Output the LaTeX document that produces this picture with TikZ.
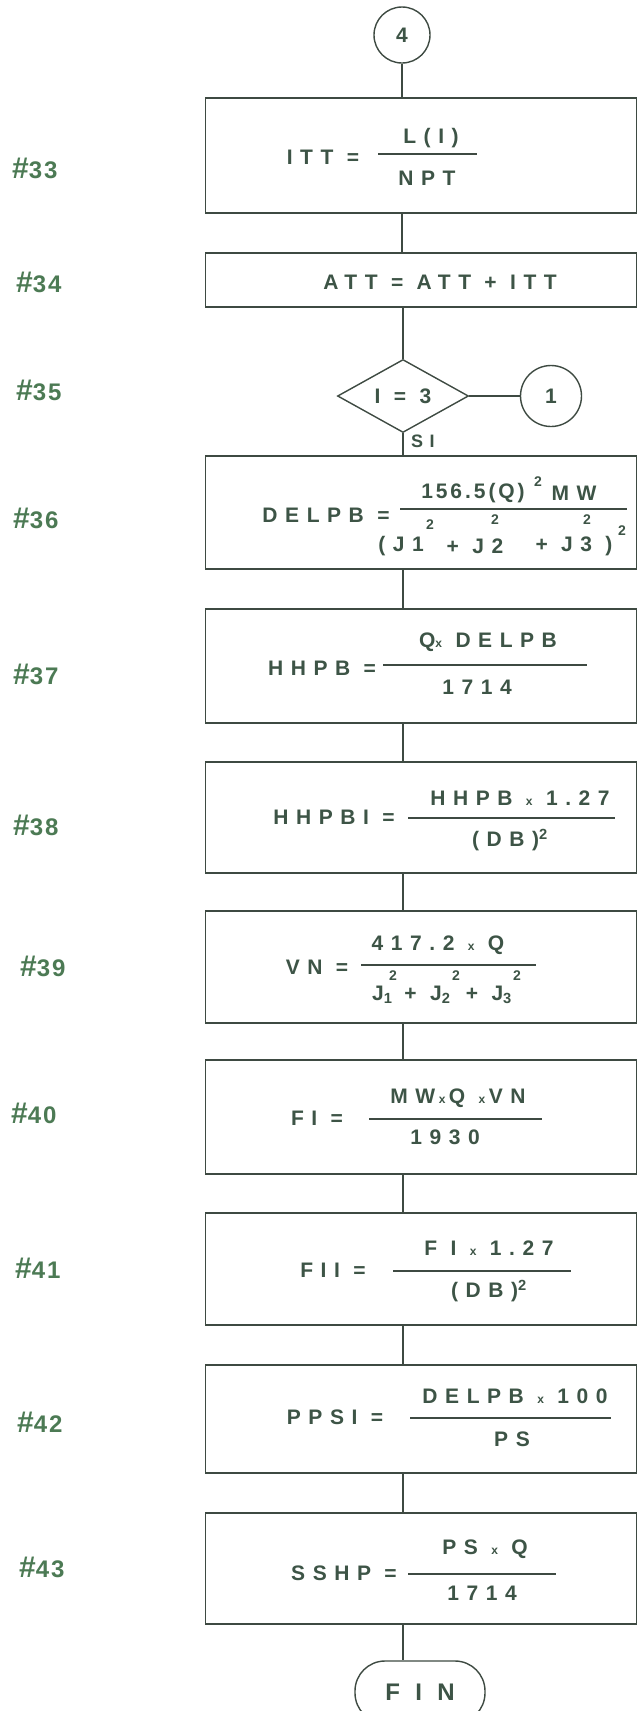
\documentclass[tikz,border=0pt]{standalone}
\usepackage{fontspec}
\usetikzlibrary{shapes.geometric}
\newfontfamily\lettering[LetterSpace=36]{Liberation Sans}
\newfontfamily\lettertight[LetterSpace=14]{Liberation Sans}
\newfontfamily\labfont[LetterSpace=8]{Liberation Sans}
\definecolor{ink}{HTML}{3E4A42}
\definecolor{txt}{HTML}{3D5446}
\definecolor{lbl}{HTML}{4C7A54}
\newcommand\mx{{\fontsize{12}{12}\selectfont x}}
\newcommand\hs{{\fontsize{30}{30}\selectfont\#}}
\begin{document}
\begin{tikzpicture}[x=1pt,y=-1pt,
  box/.style={draw=ink, line width=1.7pt, minimum width=431pt, inner sep=0pt},
  conn/.style={draw=ink, line width=1.2pt},
  bar/.style={draw=ink, line width=1.4pt},
  tx/.style={font=\lettering\bfseries\fontsize{21}{21}\selectfont, text=txt, inner sep=0pt},
  txt2/.style={font=\lettertight\bfseries\fontsize{21}{21}\selectfont, text=txt, inner sep=0pt},
  supx/.style={font=\lettering\bfseries\fontsize{14}{14}\selectfont, text=txt, inner sep=0pt},
  lab/.style={font=\labfont\bfseries\fontsize{24}{24}\selectfont, text=lbl, inner sep=0pt, anchor=west}]
\fill[white] (0,0) rectangle (639,1711);
\useasboundingbox (0,0) rectangle (639,1711);

% shapes
\node[circle, draw=ink, line width=1.4pt, minimum size=56pt, tx] (c4) at (402,35) {4};
\node[box, minimum height=115pt] (b33) at (421,155.5) {};
\node[box, minimum height=54pt] (b34) at (421,280) {};
\node[diamond, draw=ink, line width=1.4pt, minimum width=131pt, minimum height=73pt, tx] (d35) at (403,396) {I = 3};
\node[circle, draw=ink, line width=1.4pt, minimum size=61pt, tx] (c1) at (551,396) {1};
\node[box, minimum height=113pt] (b36) at (421,512.5) {};
\node[box, minimum height=114pt] (b37) at (421,666) {};
\node[box, minimum height=111pt] (b38) at (421,817.5) {};
\node[box, minimum height=112pt] (b39) at (421,967) {};
\node[box, minimum height=114pt] (b40) at (421,1117) {};
\node[box, minimum height=112pt] (b41) at (421,1269) {};
\node[box, minimum height=108pt] (b42) at (421,1419) {};
\node[box, minimum height=111pt] (b43) at (421,1568.5) {};
\node[draw=ink, line width=1.4pt, rounded corners=30pt, minimum width=130pt, minimum height=62pt, tx, font=\lettering\bfseries\fontsize{24}{24}\selectfont] (fin) at (420,1692) {F I N};

% connectors
\draw[conn] (c4.south) -- (b33.north -| c4);
\draw[conn] (b33.south -| c4) -- (b34.north -| c4);
\draw[conn] (b34.south -| d35) -- (d35.north);
\draw[conn] (d35.east) -- (c1.west);
\draw[conn] (d35.south) -- (b36.north -| d35);
\draw[conn] (b36.south -| d35) -- (b37.north -| d35);
\draw[conn] (b37.south -| d35) -- (b38.north -| d35);
\draw[conn] (b38.south -| d35) -- (b39.north -| d35);
\draw[conn] (b39.south -| d35) -- (b40.north -| d35);
\draw[conn] (b40.south -| d35) -- (b41.north -| d35);
\draw[conn] (b41.south -| d35) -- (b42.north -| d35);
\draw[conn] (b42.south -| d35) -- (b43.north -| d35);
\draw[conn] (b43.south -| d35) -- (fin.north -| d35);
\node[tx, font=\lettering\bfseries\fontsize{18}{18}\selectfont, anchor=west] (si) at (411,441) {SI};

% labels
\node[lab] (lab33) at (12,168) {\hs33};
\node[lab] (lab34) at (16,282) {\hs34};
\node[lab] (lab35) at (16,390) {\hs35};
\node[lab] (lab36) at (13,518) {\hs36};
\node[lab] (lab37) at (13,674) {\hs37};
\node[lab] (lab38) at (13,825) {\hs38};
\node[lab] (lab39) at (20,966) {\hs39};
\node[lab] (lab40) at (11,1113) {\hs40};
\node[lab] (lab41) at (15,1268) {\hs41};
\node[lab] (lab42) at (17,1422) {\hs42};
\node[lab] (lab43) at (19,1567) {\hs43};

% 33
\node[tx] (l33) at (323,157) {ITT =};
\draw[bar] (378,154) -- (477,154);
\node[tx] (n33) at (431,138) {L(I)};
\node[tx] (d33) at (427,178) {NPT};
% 34
\node[tx] (l34) at (440,282) {ATT = ATT + ITT};
% 36
\node[tx] (l36) at (326,515) {DELPB =};
\draw[bar] (400,509) -- (627,509);
\node[txt2] (n36a) at (473,493) {156.5(Q)};
\node[supx] (e36n) at (538,482) {2};
\node[tx] (n36b) at (574,493) {MW};
\node[tx] (d36a) at (401,546) {(J1};
\node[tx] (d36b) at (475,546) {+ J2};
\node[tx] (d36c) at (574,546) {+ J3 )};
\node[supx] (e36a) at (430,525) {2};
\node[supx] (e36b) at (495,520) {2};
\node[supx] (e36c) at (587,520) {2};
\node[supx] (e36d) at (622,531) {2};
% 37
\node[tx] (l37) at (322,668) {HHPB =};
\draw[bar] (383,665) -- (587,665);
\node[tx] (n37) at (488,642) {Q\mx{} DELPB};
\node[tx] (d37) at (477,687) {1714};
% 38
\node[tx] (l38) at (334,817) {HHPBI =};
\draw[bar] (408,818) -- (615,818);
\node[tx] (n38) at (520,798) {HHPB \mx{} 1.27};
\node[tx] (d38) at (510,840) {(DB)\textsuperscript{2}};
% 39
\node[tx] (l39) at (317,967) {VN =};
\draw[bar] (361,965) -- (536,965);
\node[tx] (n39) at (438,945) {417.2 \mx{} Q};
\node[tx] (d39) at (442,995) {J\textsubscript{1}\hspace{12pt}+ J\textsubscript{2}\hspace{2pt} + J\textsubscript{3}};
\node[supx] (e39a) at (393,976) {2};
\node[supx] (e39b) at (456,976) {2};
\node[supx] (e39c) at (517,976) {2};
% 40
\node[tx] (l40) at (317,1118) {FI =};
\draw[bar] (369,1119) -- (542,1119);
\node[tx] (n40) at (458,1098) {MW\,\mx\,Q \mx\,VN};
\node[tx] (d40) at (445,1137) {1930};
% 41
\node[tx] (l41) at (333,1270) {FII =};
\draw[bar] (393,1271) -- (571,1271);
\node[tx] (n41) at (489,1248) {F I \mx{} 1.27};
\node[tx] (d41) at (489,1291) {(DB)\textsuperscript{2}};
% 42
\node[tx] (l42) at (335,1417) {PPSI =};
\draw[bar] (410,1418) -- (611,1418);
\node[tx] (n42) at (515,1396) {DELPB \mx{} 100};
\node[tx] (d42) at (512,1439) {PS};
% 43
\node[tx] (l43) at (344,1573) {SSHP =};
\draw[bar] (408,1574) -- (556,1574);
\node[tx] (n43) at (485,1549) {PS \mx{} Q};
\node[tx] (d43) at (482,1593) {1714};
\end{tikzpicture}
\end{document}
